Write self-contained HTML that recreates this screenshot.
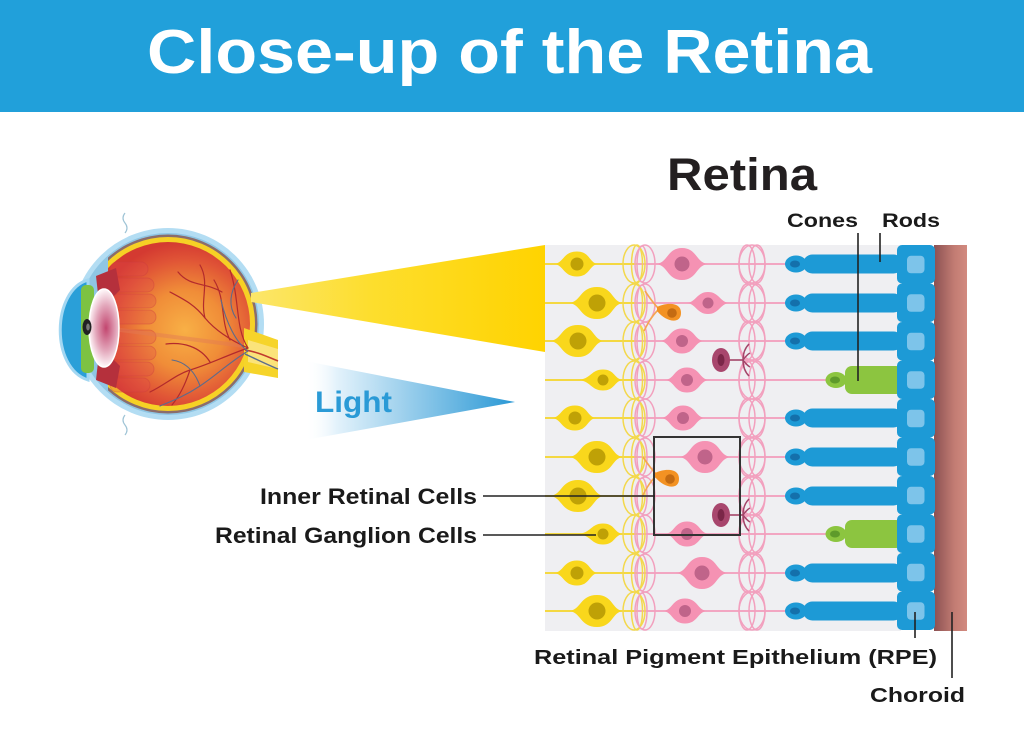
<!DOCTYPE html>
<html><head><meta charset="utf-8"><title>Close-up of the Retina</title>
<style>html,body{margin:0;padding:0;background:#fff}svg{display:block}</style>
</head><body>
<svg width="1024" height="755" viewBox="0 0 1024 755" xmlns="http://www.w3.org/2000/svg" xmlns:xlink="http://www.w3.org/1999/xlink">
<defs>
  <linearGradient id="yb" x1="252" y1="0" x2="545" y2="0" gradientUnits="userSpaceOnUse">
    <stop offset="0" stop-color="#fce66a"/><stop offset="0.4" stop-color="#fdde2e"/><stop offset="1" stop-color="#ffd300"/>
  </linearGradient>
  <linearGradient id="bb" x1="305" y1="0" x2="515" y2="0" gradientUnits="userSpaceOnUse">
    <stop offset="0" stop-color="#ffffff" stop-opacity="0"/><stop offset="0.15" stop-color="#e3f2fb"/><stop offset="1" stop-color="#2a98d5"/>
  </linearGradient>
  <linearGradient id="ch" x1="935" y1="0" x2="967" y2="0" gradientUnits="userSpaceOnUse">
    <stop offset="0" stop-color="#8e5354"/><stop offset="0.6" stop-color="#c27c73"/><stop offset="1" stop-color="#d28a7f"/>
  </linearGradient>
  <radialGradient id="inner" cx="185" cy="330" r="88" gradientUnits="userSpaceOnUse">
    <stop offset="0" stop-color="#f8b046"/><stop offset="0.45" stop-color="#f08d38"/><stop offset="0.8" stop-color="#e05436"/><stop offset="1" stop-color="#d43a31"/>
  </radialGradient>
  <radialGradient id="lens" cx="106" cy="328" r="38" gradientUnits="userSpaceOnUse" gradientTransform="translate(106 328) scale(0.45 1) translate(-106 -328)">
    <stop offset="0" stop-color="#c2466f"/><stop offset="0.6" stop-color="#e3a7bb"/><stop offset="1" stop-color="#fdf3f6"/>
  </radialGradient>
  <clipPath id="eyeclip"><rect x="108" y="200" width="200" height="260"/></clipPath>

  <g id="c1" fill="none" stroke-width="1.5">
    <ellipse cx="634" cy="0" rx="11" ry="19" stroke="#f3d84c"/>
    <ellipse cx="637" cy="0" rx="5.5" ry="19" stroke="#f3d84c"/>
    <ellipse cx="645" cy="0" rx="10" ry="19" stroke="#f2a0be"/>
    <ellipse cx="642" cy="0" rx="5" ry="18" stroke="#f2a0be"/>
  </g>
  <g id="c2" fill="none" stroke="#f2a0be" stroke-width="1.5">
    <ellipse cx="752" cy="0" rx="13" ry="19"/>
    <ellipse cx="747" cy="0" rx="8" ry="19"/>
    <ellipse cx="757" cy="0" rx="8" ry="19"/>
  </g>
  <g id="yL"><path d="M-28,0 C-16,-1 -17,-16 0,-16 C16,-16 15,-1 26,0 C15,1 16,16 0,16 C-17,16 -16,1 -28,0Z" fill="#f9d71c"/><circle r="8.5" fill="#bfa106"/></g>
  <g id="yM"><path d="M-23,0 C-13,-1 -14,-12.5 0,-12.5 C13,-12.5 12,-1 21,0 C12,1 13,12.5 0,12.5 C-14,12.5 -13,1 -23,0Z" fill="#f9d71c"/><circle r="6.5" fill="#bfa106"/></g>
  <g id="yS"><path d="M-25,0 C-12,-1 -12,-10.5 0,-10.5 C12,-10.5 11,-1 20,0 C11,1 12,10.5 0,10.5 C-12,10.5 -12,1 -25,0Z" fill="#f9d71c"/><circle r="5.5" fill="#bfa106"/></g>
  <g id="pL"><path d="M-26,0 C-14,-1 -15,-16 0,-16 C15,-16 14,-1 26,0 C14,1 15,16 0,16 C-15,16 -14,1 -26,0Z" fill="#f592b3"/><circle r="7.5" fill="#c0648a"/></g>
  <g id="pM"><path d="M-22,0 C-12,-1 -13,-12.5 0,-12.5 C13,-12.5 12,-1 22,0 C12,1 13,12.5 0,12.5 C-13,12.5 -12,1 -22,0Z" fill="#f592b3"/><circle r="6" fill="#c0648a"/></g>
  <g id="pS"><path d="M-21,0 C-12,-1 -11,-11 0,-11 C11,-11 12,-1 21,0 C12,1 11,11 0,11 C-11,11 -12,1 -21,0Z" fill="#f592b3"/><circle r="5.5" fill="#c0648a"/></g>
  <g id="rod"><rect x="803" y="-9.5" width="100" height="19" rx="9.5" fill="#1d9ad6"/><ellipse cx="796" cy="0" rx="11" ry="8.5" fill="#1d9ad6"/><ellipse cx="795" cy="0" rx="5" ry="3.5" fill="#1470ab"/></g>
  <g id="cone"><rect x="845" y="-14" width="58" height="28" rx="7" fill="#8cc540"/><ellipse cx="836" cy="0" rx="10.5" ry="8" fill="#8cc540"/><ellipse cx="835" cy="0" rx="5" ry="3.5" fill="#5e9a2b"/></g>
  <g id="rpe"><rect x="897" y="-19.25" width="38" height="38.5" rx="5" fill="#1d9ad6"/><rect x="907" y="-8.5" width="17.5" height="17.5" rx="4" fill="#7dc4ea"/></g>
  <g id="org">
    <path d="M-12,-4 C-18,-10 -22,-16 -26,-22 M-13,-3 C-20,4 -24,12 -27,18" fill="none" stroke="#f5a552" stroke-width="1.6"/>
    <path d="M-14,-6 C-6,-10 10,-12 10,0 C10,11 -4,10 -14,-2Z" fill="#f39223"/>
    <circle cx="1" cy="0" r="4.8" fill="#c46b12"/>
  </g>
  <g id="mag">
    <line x1="8" y1="0" x2="22" y2="0" stroke="#a44569" stroke-width="1.6"/>
    <path d="M22,0 C22,-8 25,-13 28,-16 M22,0 C25,-4 27,-6 29,-7 M22,0 C25,4 27,6 29,7 M22,0 C22,8 25,13 28,16" fill="none" stroke="#a44569" stroke-width="1.5"/>
    <ellipse cx="0" cy="0" rx="9" ry="12" fill="#a8466d"/>
    <ellipse cx="0" cy="0" rx="3.5" ry="6" fill="#7b2648"/>
  </g>
</defs>

<rect x="0" y="0" width="1024" height="112" fill="#21a0da"/>
<text x="147" y="73" font-family="Liberation Sans, Arial, sans-serif" font-weight="bold" font-size="62" fill="#ffffff" textLength="725" lengthAdjust="spacingAndGlyphs">Close-up of the Retina</text>

<text x="667" y="190" font-family="Liberation Sans, Arial, sans-serif" font-weight="bold" font-size="45" fill="#231f20" textLength="150" lengthAdjust="spacingAndGlyphs">Retina</text>

<!-- EYE -->
<path d="M125,213 q-4,5 0,10 q4,5 0,10" fill="none" stroke="#9fc4d6" stroke-width="1.2"/>
<path d="M125,415 q-4,5 0,10 q4,5 0,10" fill="none" stroke="#9fc4d6" stroke-width="1.2"/>
<circle cx="168" cy="324" r="96" fill="#b3ddf3"/>
<circle cx="168" cy="324" r="91" fill="#8fc6e4"/>
<g clip-path="url(#eyeclip)">
  <circle cx="168" cy="324" r="89.5" fill="#8b6d6c"/>
  <circle cx="168" cy="324" r="87" fill="#f6d125"/>
  <circle cx="168" cy="324" r="82" fill="url(#inner)"/>
</g>
<path d="M244,328 L278,340 L278,378 L244,372 Z" fill="#f6d42a"/>
<path d="M248,340 L278,349 L278,369 L248,362 Z" fill="#fbe37a"/>
<path d="M245,350 C258,352 268,357 278,361" fill="none" stroke="#c23b2e" stroke-width="1.6"/>
<path d="M245,354 C258,360 268,365 278,369" fill="none" stroke="#5b6d8c" stroke-width="1.4"/>
<g fill="#e0484a" fill-opacity="0.28" stroke="#c83a40" stroke-opacity="0.35" stroke-width="1">
  <rect x="110" y="262" width="38" height="14" rx="7"/>
  <rect x="110" y="278" width="44" height="14" rx="7"/>
  <rect x="110" y="294" width="46" height="14" rx="7"/>
  <rect x="110" y="310" width="46" height="14" rx="7"/>
  <rect x="110" y="330" width="46" height="14" rx="7"/>
  <rect x="110" y="346" width="46" height="14" rx="7"/>
  <rect x="110" y="362" width="44" height="14" rx="7"/>
  <rect x="110" y="378" width="40" height="14" rx="7"/>
</g>
<line x1="120" y1="330" x2="244" y2="346" stroke="#e27a55" stroke-width="4" stroke-opacity="0.45"/>
<g fill="none" stroke="#b32a2c" stroke-width="1.2" stroke-linecap="round">
  <path d="M248,348 C230,340 215,330 205,318 C195,305 185,300 170,292"/>
  <path d="M205,318 C200,300 210,282 200,265"/>
  <path d="M230,340 C220,320 226,300 214,280"/>
  <path d="M248,348 C235,328 240,300 230,270"/>
  <path d="M222,292 C205,282 190,287 178,272"/>
  <path d="M248,348 C225,356 210,364 190,370 C175,375 165,385 150,392"/>
  <path d="M210,362 C200,346 182,342 166,344"/>
  <path d="M190,370 C185,385 180,395 172,405"/>
</g>
<g fill="none" stroke="#5d6b8b" stroke-width="1.1" stroke-linecap="round">
  <path d="M248,351 C230,362 215,376 200,386 C185,396 172,401 160,406"/>
  <path d="M248,351 C236,343 226,322 221,300"/>
  <path d="M200,386 C195,372 186,362 172,360"/>
  <path d="M236,318 C228,306 230,292 238,280"/>
</g>
<path d="M96,276 L116,268 L120,290 L110,300 L98,294 Z" fill="#b5303c"/>
<path d="M96,380 L116,388 L120,366 L110,356 L98,362 Z" fill="#b5303c"/>
<path d="M88,280 C52,290 50,368 88,380 Z" fill="#2a9fd8" stroke="#a3d7f2" stroke-width="3"/>
<rect x="81" y="285" width="13" height="88" rx="5" fill="#7dc242"/>
<ellipse cx="104" cy="328" rx="15" ry="39" fill="url(#lens)" stroke="#ffffff" stroke-width="1.5"/>
<ellipse cx="87" cy="327" rx="4.5" ry="8" fill="#222"/>
<ellipse cx="88" cy="327" rx="1.8" ry="3.5" fill="#777"/>

<polygon points="251,293 545,245 545,352 251,302" fill="url(#yb)"/>
<polygon points="300,360 515,402 305,440" fill="url(#bb)"/>
<text x="315" y="412" font-family="Liberation Sans, Arial, sans-serif" font-weight="bold" font-size="30" fill="#2a9ad6" textLength="77" lengthAdjust="spacingAndGlyphs">Light</text>

<rect x="545" y="245" width="356" height="386" fill="#efeff2"/>

<g stroke-width="1.8">
  <g stroke="#f5d428">
    <line x1="545" y1="264" x2="637" y2="264"/><line x1="545" y1="303" x2="637" y2="303"/>
    <line x1="545" y1="341" x2="637" y2="341"/><line x1="545" y1="380" x2="637" y2="380"/>
    <line x1="545" y1="418" x2="637" y2="418"/><line x1="545" y1="457" x2="637" y2="457"/>
    <line x1="545" y1="496" x2="637" y2="496"/><line x1="545" y1="534" x2="637" y2="534"/>
    <line x1="545" y1="573" x2="637" y2="573"/><line x1="545" y1="611" x2="637" y2="611"/>
  </g>
  <g stroke="#f39bbb">
    <line x1="637" y1="264" x2="800" y2="264"/><line x1="637" y1="303" x2="800" y2="303"/>
    <line x1="637" y1="341" x2="800" y2="341"/><line x1="637" y1="380" x2="830" y2="380"/>
    <line x1="637" y1="418" x2="800" y2="418"/><line x1="637" y1="457" x2="800" y2="457"/>
    <line x1="637" y1="496" x2="800" y2="496"/><line x1="637" y1="534" x2="830" y2="534"/>
    <line x1="637" y1="573" x2="800" y2="573"/><line x1="637" y1="611" x2="800" y2="611"/>
  </g>
</g>

<use xlink:href="#c1" href="#c1" y="264"/><use xlink:href="#c1" href="#c1" y="303"/>
<use xlink:href="#c1" href="#c1" y="341"/><use xlink:href="#c1" href="#c1" y="380"/>
<use xlink:href="#c1" href="#c1" y="418"/><use xlink:href="#c1" href="#c1" y="457"/>
<use xlink:href="#c1" href="#c1" y="496"/><use xlink:href="#c1" href="#c1" y="534"/>
<use xlink:href="#c1" href="#c1" y="573"/><use xlink:href="#c1" href="#c1" y="611"/>
<use xlink:href="#c2" href="#c2" y="264"/><use xlink:href="#c2" href="#c2" y="303"/>
<use xlink:href="#c2" href="#c2" y="341"/><use xlink:href="#c2" href="#c2" y="380"/>
<use xlink:href="#c2" href="#c2" y="418"/><use xlink:href="#c2" href="#c2" y="457"/>
<use xlink:href="#c2" href="#c2" y="496"/><use xlink:href="#c2" href="#c2" y="534"/>
<use xlink:href="#c2" href="#c2" y="573"/><use xlink:href="#c2" href="#c2" y="611"/>

<use xlink:href="#yM" href="#yM" x="577" y="264"/>
<use xlink:href="#yL" href="#yL" x="597" y="303"/>
<use xlink:href="#yL" href="#yL" x="578" y="341"/>
<use xlink:href="#yS" href="#yS" x="603" y="380"/>
<use xlink:href="#yM" href="#yM" x="575" y="418"/>
<use xlink:href="#yL" href="#yL" x="597" y="457"/>
<use xlink:href="#yL" href="#yL" x="578" y="496"/>
<use xlink:href="#yS" href="#yS" x="603" y="534"/>
<use xlink:href="#yM" href="#yM" x="577" y="573"/>
<use xlink:href="#yL" href="#yL" x="597" y="611"/>

<use xlink:href="#pL" href="#pL" x="682" y="264"/>
<use xlink:href="#pS" href="#pS" x="708" y="303"/>
<use xlink:href="#pM" href="#pM" x="682" y="341"/>
<use xlink:href="#pM" href="#pM" x="687" y="380"/>
<use xlink:href="#pM" href="#pM" x="683" y="418"/>
<use xlink:href="#pL" href="#pL" x="705" y="457"/>
<use xlink:href="#pM" href="#pM" x="687" y="534"/>
<use xlink:href="#pL" href="#pL" x="702" y="573"/>
<use xlink:href="#pM" href="#pM" x="685" y="611"/>

<use xlink:href="#org" href="#org" x="671" y="313"/>
<use xlink:href="#org" href="#org" x="669" y="479"/>
<use xlink:href="#mag" href="#mag" x="721" y="360"/>
<use xlink:href="#mag" href="#mag" x="721" y="515"/>

<use xlink:href="#rod" href="#rod" y="264"/><use xlink:href="#rod" href="#rod" y="303"/>
<use xlink:href="#rod" href="#rod" y="341"/><use xlink:href="#cone" href="#cone" y="380"/>
<use xlink:href="#rod" href="#rod" y="418"/><use xlink:href="#rod" href="#rod" y="457"/>
<use xlink:href="#rod" href="#rod" y="496"/><use xlink:href="#cone" href="#cone" y="534"/>
<use xlink:href="#rod" href="#rod" y="573"/><use xlink:href="#rod" href="#rod" y="611"/>

<rect x="934" y="245" width="33" height="386" fill="url(#ch)"/>
<use xlink:href="#rpe" href="#rpe" y="264.25"/><use xlink:href="#rpe" href="#rpe" y="302.75"/>
<use xlink:href="#rpe" href="#rpe" y="341.25"/><use xlink:href="#rpe" href="#rpe" y="379.75"/>
<use xlink:href="#rpe" href="#rpe" y="418.25"/><use xlink:href="#rpe" href="#rpe" y="456.75"/>
<use xlink:href="#rpe" href="#rpe" y="495.25"/><use xlink:href="#rpe" href="#rpe" y="533.75"/>
<use xlink:href="#rpe" href="#rpe" y="572.25"/><use xlink:href="#rpe" href="#rpe" y="610.75"/>

<rect x="654" y="437" width="86" height="98" fill="none" stroke="#333" stroke-width="2"/>

<g stroke="#222" stroke-width="1.6">
  <line x1="858" y1="233" x2="858" y2="381"/>
  <line x1="880" y1="233" x2="880" y2="262"/>
  <line x1="915" y1="612" x2="915" y2="638"/>
  <line x1="952" y1="612" x2="952" y2="678"/>
  <line x1="483" y1="496" x2="655" y2="496"/>
  <line x1="483" y1="535" x2="596" y2="535"/>
</g>

<g font-family="Liberation Sans, Arial, sans-serif" font-weight="bold" fill="#1a1a1a">
  <text x="787" y="227" font-size="19.5" textLength="71" lengthAdjust="spacingAndGlyphs">Cones</text>
  <text x="882" y="227" font-size="19.5" textLength="58" lengthAdjust="spacingAndGlyphs">Rods</text>
  <text x="260" y="504" font-size="22" textLength="217" lengthAdjust="spacingAndGlyphs">Inner Retinal Cells</text>
  <text x="215" y="543" font-size="22" textLength="262" lengthAdjust="spacingAndGlyphs">Retinal Ganglion Cells</text>
  <text x="534" y="664" font-size="20.5" textLength="403" lengthAdjust="spacingAndGlyphs">Retinal Pigment Epithelium (RPE)</text>
  <text x="870" y="702" font-size="20.5" textLength="95" lengthAdjust="spacingAndGlyphs">Choroid</text>
</g>
</svg>
</body></html>
